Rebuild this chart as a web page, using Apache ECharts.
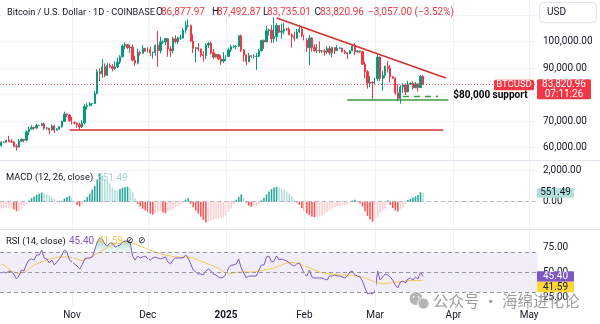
<!DOCTYPE html>
<html><head><meta charset="utf-8">
<script src="https://cdn.jsdelivr.net/npm/echarts@6/dist/echarts.min.js"></script>
<style>html,body{margin:0;padding:0;background:#fff}#c{width:600px;height:324px}</style>
</head><body><div id="c"></div>
<script>
// ---------- DATA ----------
// daily candles from 2024-10-04, rows: [open, high, low, close]
const ohlc = [
[60750,62480,60460,62080],[62080,62370,61650,62060],[62060,62980,61900,62820],[62820,64480,62100,62220],[62220,63200,61860,62130],
[62130,62540,60300,60580],[60580,61320,58900,60270],[60270,63400,60050,62450],[62450,63480,62400,63200],[63200,63300,62050,62850],
[62850,66500,62420,66050],[66050,67900,64800,67040],[67040,68400,66900,67620],[67620,67900,66700,67390],[67390,68970,67100,68380],
[68380,68680,68100,68360],[68360,69400,68100,69000],[69000,69500,66600,67370],[67370,67850,66650,67380],[67380,67430,65100,66680],
[66680,68830,66500,68190],[68190,68700,65500,66620],[66620,67400,66500,67010],[67010,68200,66750,67930],[67930,70200,67500,69910],
[69910,73600,69700,72720],[72720,72960,71500,72340],[72340,72700,69700,70200],[70200,71600,68800,69480],[69480,69900,68800,69350],
[69350,69400,67500,68740],[68740,69500,66800,67810],[67810,70500,67400,69370],[69370,76400,68800,75640],[75640,76800,74400,75900],
[75900,77200,75600,76540],[76540,76900,75800,76680],[76680,81500,76500,80370],[80370,89600,80200,88700],[88700,89950,85100,87950],
[87950,93450,86300,90500],[90500,91800,86600,87290],[87290,91850,87100,91050],[91050,91800,90100,90600],[90600,91500,88800,89850],
[89850,92600,89400,90460],[90460,94000,90000,92310],[92310,94900,91600,94290],[94290,99000,94100,98350],[98350,99800,97200,98900],
[98900,99000,97200,97700],[97700,98700,95800,98000],[98000,98900,92600,93000],[93000,94700,90800,91950],[91950,97300,91400,95900],
[95900,96600,94700,95650],[95650,98700,95400,97450],[97450,97700,96200,96400],[96400,97850,95800,97180],[97180,98100,94500,95820],
[95820,96300,93600,95980],[95980,99000,94700,98620],[98620,104000,90500,96600],[96600,101900,95600,99900],[99900,100500,99100,99900],
[99900,101400,98700,101200],[101200,101200,94300,97300],[97300,98300,94300,96600],[96600,101900,95700,101100],[101100,102500,99300,100000],
[100000,101900,99200,101400],[101400,102600,100700,101400],[101400,105200,101200,104300],[104300,107800,103300,106000],[106000,108300,105300,106100],
[106100,106500,100000,100200],[100200,102800,95700,97500],[97500,98000,92200,97700],[97700,99500,96400,97200],[97200,97400,94200,95100],
[95100,96400,92500,94700],[94700,99400,93400,98700],[98700,99900,97600,99400],[99400,99900,95200,95800],[95800,97300,93500,94200],
[94200,95500,94000,95200],[95200,95200,93200,93500],[93500,94900,91300,92600],[92600,96100,92000,93400],[93400,94900,92700,94400],
[94400,97800,94200,96900],[96900,98900,96000,98100],[98100,98700,97500,98200],[98200,98800,97200,98300],[98300,102500,97900,102200],
[102200,102700,96100,96900],[96900,97200,92500,95000],[95000,95300,91200,92500],[92500,95800,92200,94700],[94700,94900,93800,94500],
[94500,95300,93700,94500],[94500,95800,89300,94500],[94500,97300,94300,96500],[96500,100700,96500,100500],[100500,100800,97300,99900],
[99900,105900,99900,104100],[104100,104900,102300,104400],[104400,106300,99500,101100],[101100,109100,99600,102000],[102000,107000,100100,106100],
[106100,106300,103200,103600],[103600,106800,101200,104000],[104000,107100,102800,104800],[104800,105300,104100,104700],[104700,105500,102500,102600],
[102600,103200,97800,102000],[102000,103800,100300,101300],[101300,104800,101300,103700],[103700,106400,103300,104700],[104700,106000,101600,102400],
[102400,102800,100300,100600],[100600,101400,96200,97700],[97700,102500,91200,101400],[101400,101700,96200,97800],[97800,99000,96200,96600],
[96600,99100,95700,96600],[96600,100100,95700,96500],[96500,96900,95700,96500],[96500,97300,94700,96100],[96100,98300,95300,97400],
[97400,98500,94900,95800],[95800,98100,94100,97800],[97800,97900,95300,96600],[96600,98700,96600,97500],[97500,97900,97200,97600],
[97600,97700,96000,96200],[96200,97000,95300,95800],[95800,96000,93400,95500],[95500,96900,95300,96600],[96600,98800,96400,98300],
[98300,99500,94900,96100],[96100,96900,96100,96500],[96500,96600,95800,96200],[96200,96500,91200,91500],[91500,92500,86100,88700],
[88700,89300,82300,84300],[84300,87000,82800,84700],[84700,85100,78200,84400],[84400,86500,83800,86000],[86000,95000,85100,94200],
[94200,94400,85100,86100],[86100,88900,81500,87300],[87300,91000,86300,90600],[90600,92800,88400,89900],[89900,91300,84700,86800],
[86800,86900,85900,86200],[86200,86500,80000,80700],[80700,84000,77500,78600],[78600,83600,76600,82900],[82900,84300,80700,83700],
[83700,84300,79900,81100],[81100,85300,80800,84000],[84000,84700,83700,84300],[84300,85000,81900,82600],[82600,84800,82500,84100],
[84100,84100,81200,82700],[82700,87400,82600,86877.97],[86877.97,87492.87,83735.01,83820.96]
];
const macdHist = [
-450,-420,-400,-380,-370,-480,-600,-560,-420,-280,
-130,80,220,330,430,500,575,540,480,400,
320,180,40,-40,60,200,300,350,250,60,
-200,-300,-230,100,300,500,750,1000,1400,1800,
1650,1450,1300,1150,900,750,700,800,880,920,
950,850,600,200,-150,-300,-450,-550,-650,-750,
-800,-720,-650,-600,-680,-720,-640,-540,-440,-340,
-240,-150,-60,130,220,-120,-350,-560,-760,-950,
-1150,-1320,-1250,-1180,-1120,-1080,-1060,-1040,-980,-850,
-650,-430,-200,120,300,450,260,-60,-250,-320,
-300,-280,-200,80,250,450,650,800,900,930,
880,820,750,650,500,350,150,-50,-200,-400,
-600,-750,-850,-950,-980,-950,-900,-850,-750,-650,
-550,-450,-350,-300,-260,-240,-200,-190,-120,80,
120,60,-100,-300,-600,-900,-1100,-1260,-1200,-1000,
-700,-550,-450,80,-200,-400,-550,-620,-500,-350,
-150,100,180,260,330,420,600,551.49
];
const rsi = [
49,50,49,51,50,48,43,46,52,51,
58,62,63,62,67,67,72,64,63,59,
62,57,60,63,67,72,70,62,60,58,
56,53,57,63,64,64,65,72,80,84,
83,78,76,79,79,75,76,77,80,81,
81,80,66,62,66,64,65,66,63,62,
64,65,64,63,64,65,60,58,62,64,
64,64,64,67,64,58,52,50,48,48,
47,51,53,51,48,47,45,44,45,48,
54,57,57,58,63,54,49,44,46,46,
46,46,52,57,57,65,66,60,61,66,
62,63,62,61,59,57,56,58,59,54,
48,46,52,45,44,44,44,44,43,42,
46,46,47,46,46,45,44,46,50,51,
47,46,45,41,34,28,29,28,31,51,
42,45,48,47,45,42,37,34,40,41,
39,43,44,42,45,43,50,45.40
];
const rsiMA = [
58,57,55,53,51,50,49,48.5,48.5,49.5,
51,53,55,57,58,59,60,61,62,63,
63.5,64,64.5,65,65,65,65,65,64.5,64,
63,62,61.5,62,63,64,65.5,67,68.5,70,
71.5,73,74.5,75.5,76.5,77.5,78.5,79,79.5,80,
80,80,79,78,77,76,75,74,73,72,
71,70,69,68,67.5,67,66.5,66,65.5,65,
65,65,65,65,65,64.5,64,63,62,61,
60,59,58,57,56,55,54,52,50,48.5,
48,48.5,49,49.5,50,50,50,50,50,50,
50,50.5,51,51.5,52,52.5,53,53.5,54,55,
56,57,58,59,59.5,59.6,59.5,59,58,57,
56,55,54,53,52,51,50,49.5,49,48.5,
48,48,47.5,47.5,47,47,47,47,47,46.5,
46,46,45.5,45,44,43,42,41,40,39,
38.8,38.6,38.6,38.6,39,39.5,39.8,40,40.3,40.6,
41,41.2,41.4,41.5,41.6,41.6,41.6,41.59
];
const priceTicks = [60000, 110000, 10000];   // min, max, step
const macdTicks = [0, 2000, 2000];
const rsiTicks = [25, 75, 25];
const monthNames = ['Jan','Feb','Mar','Apr','May','Jun','Jul','Aug','Sep','Oct','Nov','Dec'];
const headerQuote = {O:'86,877.97', H:'87,492.87', L:'83,735.01', C:'83,820.96', chg:'\u22123,057.00 (\u22123.52%)'};
const countdown = '07:11:26';
const supportText = '$80,000 support';

// categories: daily from 2024-10-04 through 2025-05-04
const dates = [];
{ const t0 = Date.UTC(2024, 9, 4); for (let i = 0; i < 213; i++) dates.push(new Date(t0 + i * 86400000).toISOString().slice(0, 10)); }

// ---------- CHART ----------
const FONT = 'Roboto, "Liberation Sans", Arial, sans-serif';
const UP = '#089981', DOWN = '#F23645', TXT = '#131722';
const chart = echarts.init(document.getElementById('c'), null, {renderer: 'canvas', width: 600, height: 324});
const fmt2 = v => v.toLocaleString('en-US', {minimumFractionDigits: 2, maximumFractionDigits: 2});

const lastClose = ohlc[ohlc.length - 1][3];
const lastMacd = macdHist[macdHist.length - 1];
const lastRsi = rsi[rsi.length - 1];
const lastRsiMA = rsiMA[rsiMA.length - 1];

const candleData = ohlc.map(r => [r[0], r[3], r[2], r[1]]);
const macdData = macdHist.map((v, i) => {
  const p = i ? macdHist[i - 1] : v;
  const c = v >= 0 ? (v >= p ? '#26A69A' : '#B2DFDB') : (v < p ? '#FF5252' : '#FFCDD2');
  return {value: v, itemStyle: {color: c}};
});
const obBase = rsi.map(() => 70), obDelta = rsi.map(v => Math.max(0, v - 70));
const osBase = rsi.map(v => Math.min(v, 30)), osDelta = rsi.map(v => 30 - Math.min(v, 30));
const monthStarts = dates.filter(d => d.endsWith('-01'));

const L = 0, R = 62;
const grids = [
  {left: L, right: R, top: 15.2, height: 132.5},
  {left: L, right: R, top: 170, height: 31.7},
  {left: L, right: R, top: 247, height: 50},
  {left: L, right: R, top: 0, height: 306}
];
const xBase = gi => ({type: 'category', gridIndex: gi, data: dates, boundaryGap: true,
  axisLine: {show: false}, axisTick: {show: false}, axisLabel: {show: false}, splitLine: {show: false}});
const xAxes = [xBase(0), xBase(1), xBase(2), Object.assign(xBase(3), {
  axisLabel: {show: true, margin: 4, color: TXT, fontSize: 10, fontFamily: FONT,
    interval: (i, v) => v.endsWith('-01'),
    formatter: v => { const m = +v.slice(5, 7); return m === 1 ? '{b|' + v.slice(0, 4) + '}' : monthNames[m - 1]; },
    rich: {b: {fontWeight: 'bold', fontSize: 10, color: TXT, fontFamily: FONT}}}
})];
const yLab = (hideFn) => ({margin: 5, color: TXT, fontSize: 10, fontFamily: FONT, formatter: v => hideFn(v) ? '' : fmt2(v)});
const yAxes = [
  {type: 'value', gridIndex: 0, position: 'right', min: priceTicks[0], max: priceTicks[1], interval: priceTicks[2],
    axisLine: {show: false}, axisTick: {show: false}, splitLine: {lineStyle: {color: '#F0F3FA'}},
    axisLabel: yLab(v => v >= 110000)},
  {type: 'value', gridIndex: 1, position: 'right', min: macdTicks[0], max: macdTicks[1], interval: macdTicks[2],
    axisLine: {show: false}, axisTick: {show: false}, splitLine: {lineStyle: {color: '#F0F3FA'}},
    axisLabel: yLab(() => false)},
  {type: 'value', gridIndex: 2, position: 'right', min: rsiTicks[0], max: rsiTicks[1], interval: rsiTicks[2],
    axisLine: {show: false}, axisTick: {show: false}, splitLine: {show: false},
    axisLabel: yLab(() => false)},
  {type: 'value', gridIndex: 3, min: 0, max: 1, show: false}
];

const RED_LINE = {color: '#D32F2F', width: 1.6, type: 'solid'};
const GREEN_LINE = {color: '#3A9A3F', width: 1.6, type: 'solid'};
const noLab = {show: false};
const seg = (a, b, style, label) => [
  {coord: a, lineStyle: style, label: label || noLab},
  {coord: b, lineStyle: style, label: label || noLab}
];

const series = [
  {type: 'line', xAxisIndex: 3, yAxisIndex: 3, data: dates.map(() => null), silent: true, z: 0, symbol: 'none',
    markLine: {silent: true, symbol: ['none', 'none'], label: {show: false}, animation: false,
      lineStyle: {color: '#EEF0F4', width: 1, type: 'solid'}, data: monthStarts.map(d => ({xAxis: d}))}},
  {type: 'candlestick', xAxisIndex: 0, yAxisIndex: 0, data: candleData, barWidth: '70%', clip: false,
    itemStyle: {color: UP, color0: DOWN, borderColor: UP, borderColor0: DOWN, borderWidth: 1},
    markLine: {silent: true, symbol: ['none', 'none'], animation: false, label: {show: false},
      data: [
        {yAxis: lastClose, lineStyle: {type: [1, 2], color: '#F23645', width: 1, opacity: 0.8}, label: noLab},
        seg([dates[109], 108900], [dates[176], 86300], RED_LINE),
        seg([dates[27], 66700], [dates[175], 66700], RED_LINE),
        seg([dates[137], 78000], [dates[177], 78000], GREEN_LINE),
        seg([dates[159], 79600], [dates[173], 79600], {color: '#3A9A3F', width: 1.4, type: [6, 5]},
          {show: true, position: 'end', distance: 15, formatter: supportText, color: '#000', fontWeight: 'bold', fontSize: 10, fontFamily: FONT})
      ]}},
  {type: 'bar', xAxisIndex: 1, yAxisIndex: 1, data: macdData, barWidth: '62%', clip: false,
    markLine: {silent: true, symbol: ['none', 'none'], animation: false, label: {show: false},
      data: [{yAxis: 0, lineStyle: {type: [4, 3], color: '#9598A1', width: 1, opacity: 0.6}}]}},
  {type: 'line', xAxisIndex: 2, yAxisIndex: 2, data: obBase, stack: 'ob', symbol: 'none', silent: true, clip: false,
    lineStyle: {width: 0, opacity: 0}},
  {type: 'line', xAxisIndex: 2, yAxisIndex: 2, data: obDelta, stack: 'ob', symbol: 'none', silent: true, clip: false,
    lineStyle: {width: 0, opacity: 0},
    areaStyle: {color: new echarts.graphic.LinearGradient(0, 0, 0, 1, [{offset: 0, color: 'rgba(8,153,129,0.55)'}, {offset: 1, color: 'rgba(8,153,129,0.08)'}])}},
  {type: 'line', xAxisIndex: 2, yAxisIndex: 2, data: osBase, stack: 'os', symbol: 'none', silent: true, clip: false,
    lineStyle: {width: 0, opacity: 0}},
  {type: 'line', xAxisIndex: 2, yAxisIndex: 2, data: osDelta, stack: 'os', symbol: 'none', silent: true, clip: false,
    lineStyle: {width: 0, opacity: 0},
    areaStyle: {color: new echarts.graphic.LinearGradient(0, 0, 0, 1, [{offset: 0, color: 'rgba(242,54,69,0.06)'}, {offset: 1, color: 'rgba(242,54,69,0.4)'}])}},
  {type: 'line', xAxisIndex: 2, yAxisIndex: 2, data: rsiMA, symbol: 'none', clip: false,
    lineStyle: {color: '#F5C84C', width: 1}},
  {type: 'line', xAxisIndex: 2, yAxisIndex: 2, data: rsi, symbol: 'none', clip: false,
    lineStyle: {color: '#7E57C2', width: 1},
    markArea: {silent: true, itemStyle: {color: 'rgba(126,87,194,0.10)'}, data: [[{yAxis: 30}, {yAxis: 70}]]},
    markLine: {silent: true, symbol: ['none', 'none'], animation: false, label: {show: false},
      lineStyle: {type: [4, 3], color: '#9598A1', width: 1},
      data: [{yAxis: 70}, {yAxis: 50}, {yAxis: 30}]}}
];

chart.setOption({animation: false, grid: grids, xAxis: xAxes, yAxis: yAxes, series: series});

// ---------- overlays (legends, tags) ----------
const yP = chart.convertToPixel({yAxisIndex: 0}, lastClose);
const yM = chart.convertToPixel({yAxisIndex: 1}, lastMacd);
const yR = chart.convertToPixel({yAxisIndex: 2}, lastRsi);
const txt = (x, y, s, fill, size, extra) => Object.assign({type: 'text', x: x, y: y, z: 100,
  style: Object.assign({text: s, fill: fill, font: (size || 10) + 'px ' + FONT, align: 'left', verticalAlign: 'middle',
    textAlign: 'left', textVerticalAlign: 'middle'}, extra || {})});
const rect = (x, y, w, h, fill, stroke, r) => ({type: 'rect', z: 99, shape: {x: x, y: y, width: w, height: h, r: r || 0},
  style: {fill: fill, stroke: stroke || null, lineWidth: stroke ? 1 : 0}});
const hline = (y, x1, x2, color) => ({type: 'line', z: 50, shape: {x1: x1, y1: y, x2: x2, y2: y}, style: {stroke: color, lineWidth: 1}});

const els = [
  hline(160.5, 0, 600, '#E0E3EB'),
  hline(229.5, 0, 600, '#E0E3EB'),
  // header
  txt(7, 12.7, 'Bitcoin / U.S. Dollar \u00b7 1D \u00b7 COINBASE', TXT, 9.2),
  txt(156, 12.7, 'O', TXT, 10), txt(161, 12.7, headerQuote.O, DOWN, 10),
  txt(212, 12.7, 'H', TXT, 10), txt(217, 12.7, headerQuote.H, DOWN, 10),
  txt(263, 12.7, 'L', TXT, 10), txt(267, 12.7, headerQuote.L, DOWN, 10),
  txt(314.5, 12.7, 'C', TXT, 10), txt(320, 12.7, headerQuote.C, DOWN, 10),
  txt(368, 12.7, headerQuote.chg, DOWN, 10),
  rect(539.5, 2.5, 57, 20, '#fff', '#E0E3EB', 4),
  txt(547, 12.7, 'USD', TXT, 10),
  // MACD legend
  txt(6, 178, 'MACD (12, 26, close)', TXT, 9.4),
  txt(97, 178, fmt2(lastMacd), '#A5D6CF', 10),
  // RSI legend
  txt(6, 241.3, 'RSI (14, close)', TXT, 9.4),
  txt(69, 241.3, fmt2(lastRsi), '#7E57C2', 10),
  txt(98, 241.3, fmt2(lastRsiMA), '#F5C84C', 10),
  txt(126, 241.3, '\u2298', TXT, 8.5), txt(138, 241.3, '\u2298', TXT, 8.5),
  // price tags
  rect(494, yP - 4.8, 40, 10.6, '#F23645', null, 1.5),
  txt(514, yP + 0.5, 'BTCUSD', '#fff', 9.5, {align: 'center', textAlign: 'center'}),
  rect(537, yP - 5.3, 54, 20, '#F23645', null, 1.5),
  txt(564, yP, fmt2(lastClose), '#fff', 10, {align: 'center', textAlign: 'center'}),
  txt(564, yP + 9.6, countdown, '#fff', 10, {align: 'center', textAlign: 'center'}),
  rect(537, yM - 4.8, 37, 9.6, '#B2DFDB', null, 1),
  txt(555.5, yM, fmt2(lastMacd), TXT, 10, {align: 'center', textAlign: 'center'}),
  rect(537, yR - 5.3, 37, 10.4, '#7E57C2', null, 1),
  txt(555.5, yR, fmt2(lastRsi), '#fff', 10, {align: 'center', textAlign: 'center'}),
  rect(537, yR + 5.1, 37, 10.6, '#FDD835', null, 1),
  txt(555.5, yR + 10.4, fmt2(lastRsiMA), TXT, 10, {align: 'center', textAlign: 'center'}),
  // watermark
  {type: 'circle', z: 98, shape: {cx: 416, cy: 298.5, r: 7}, style: {fill: '#B5B5B5', stroke: '#fff', lineWidth: 1}},
  {type: 'circle', z: 98, shape: {cx: 423.5, cy: 303.5, r: 5.6}, style: {fill: '#B5B5B5', stroke: '#fff', lineWidth: 1}},
  {type: 'circle', z: 99, shape: {cx: 413.5, cy: 297, r: 0.9}, style: {fill: '#fff'}},
  {type: 'circle', z: 99, shape: {cx: 418.5, cy: 297, r: 0.9}, style: {fill: '#fff'}},
  txt(433, 301.5, '\u516c\u4f17\u53f7 \u00b7 \u6d77\u7ef5\u8fdb\u5316\u8bba', 'rgba(140,140,140,0.85)', 15.5,
    {font: '15.5px "Noto Sans CJK SC", sans-serif'})
];
chart.setOption({graphic: {elements: els}});
</script>
</body></html>
